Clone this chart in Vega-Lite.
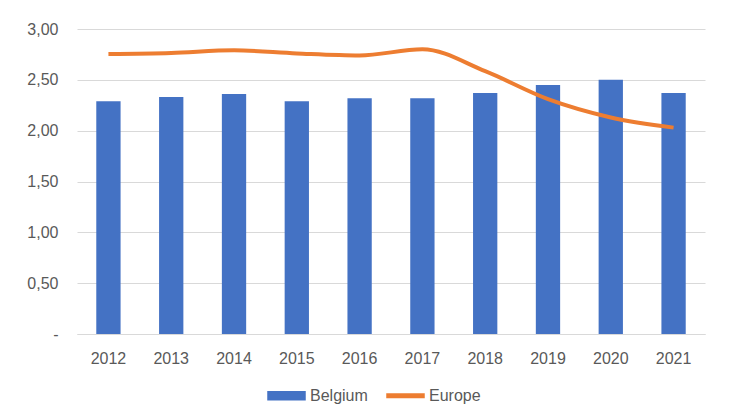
{
  "$schema": "https://vega.github.io/schema/vega-lite/v6.json",
  "autosize": {"type": "none"},
  "padding": {"left": 77, "top": 29, "right": 25, "bottom": 84},
  "width": 628,
  "height": 305,
  "background": "white",
  "config": {
    "view": {"stroke": null},
    "font": "Liberation Sans",
    "axis": {"labelFont": "Liberation Sans", "labelFontSize": 16, "labelColor": "#595959", "ticks": false, "title": null},
    "legend": {"labelFont": "Liberation Sans", "labelFontSize": 16, "labelColor": "#595959"}
  },
  "data": {
    "values": [
      {"year": "2012", "Belgium": 2.29, "Europe": 2.755},
      {"year": "2013", "Belgium": 2.33, "Europe": 2.765},
      {"year": "2014", "Belgium": 2.36, "Europe": 2.79},
      {"year": "2015", "Belgium": 2.29, "Europe": 2.76},
      {"year": "2016", "Belgium": 2.32, "Europe": 2.74},
      {"year": "2017", "Belgium": 2.32, "Europe": 2.80},
      {"year": "2018", "Belgium": 2.37, "Europe": 2.585},
      {"year": "2019", "Belgium": 2.45, "Europe": 2.31},
      {"year": "2020", "Belgium": 2.50, "Europe": 2.13},
      {"year": "2021", "Belgium": 2.37, "Europe": 2.03}
    ]
  },
  "encoding": {
    "x": {
      "field": "year", "type": "nominal",
      "scale": {"paddingInner": 0.613, "paddingOuter": 0.307},
      "axis": {"labelAngle": 0, "labelPadding": 16, "domainColor": "#d9d9d9", "domainWidth": 1, "grid": false}
    }
  },
  "layer": [
    {
      "mark": {"type": "bar", "color": "#4472C4"},
      "encoding": {
        "y": {
          "field": "Belgium", "type": "quantitative",
          "scale": {"domain": [0, 3], "nice": false},
          "axis": {
            "values": [0, 0.5, 1, 1.5, 2, 2.5, 3],
            "domain": false, "grid": true, "gridColor": "#d9d9d9", "gridWidth": 1,
            "labelPadding": 19,
            "labelExpr": "datum.value === 0 ? '-\u2007\u2007' : replace(format(datum.value, '.2f'), '.', ',')"
          }
        },
        "color": {
          "datum": "Belgium",
          "scale": {"domain": ["Belgium", "Europe"], "range": ["#4472C4", "#ED7D31"]},
          "legend": {
            "title": null,
            "orient": "none",
            "legendX": 190,
            "legendY": 347,
            "direction": "horizontal",
            "columns": 2,
            "columnPadding": 16,
            "padding": 0,
            "labelOffset": 4,
            "symbolSize": 1369,
            "symbolType": "M-1,-0.22H1V0.22H-1Z",
            "encode": {
              "symbols": {
                "update": {
                  "shape": {"signal": "datum.value === 'Europe' ? 'M-1,-0.1H1V0.1H-1Z' : 'M-1,-0.22H1V0.22H-1Z'"},
                  "fill": {"signal": "datum.value === 'Europe' ? '#ED7D31' : '#4472C4'"},
                  "stroke": {"value": "transparent"},
                  "opacity": {"value": 1}
                }
              }
            }
          }
        }
      }
    },
    {
      "mark": {"type": "line", "strokeWidth": 4, "interpolate": "monotone", "color": "#ED7D31"},
      "encoding": {
        "y": {"field": "Europe", "type": "quantitative"},
        "color": {"datum": "Europe"}
      }
    }
  ]
}
